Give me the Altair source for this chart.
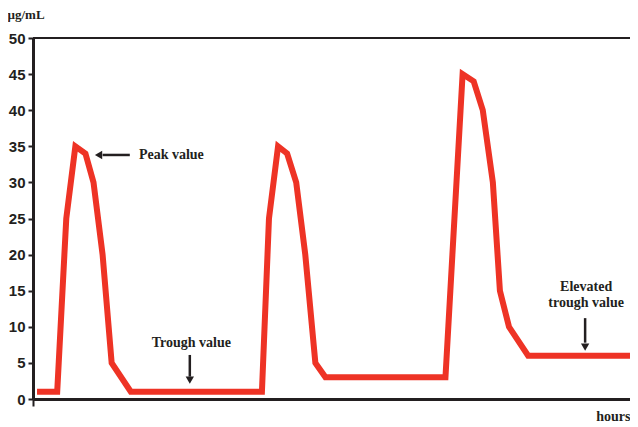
import altair as alt
import pandas as pd

# Concentration curve (hours, µg/mL)
hours = [0.4, 2.4, 3.3, 4.2, 5.2, 6.0, 6.9, 7.8, 9.7,
         22.7, 23.4, 24.3, 25.2, 26.1, 27.0, 28.0, 29.0,
         40.9, 42.6, 43.7, 44.6, 45.6, 46.3, 47.2, 49.1, 60.0]
conc = [1, 1, 25, 35, 34, 30, 20, 5, 1,
        1, 25, 35, 34, 30, 20, 5, 3,
        3, 45, 44, 40, 30, 15, 10, 6, 6]

y_ticks = [0, 5, 10, 15, 20, 25, 30, 35, 40, 45, 50]

# Annotations
ann_text = ["Peak value", "Trough value", "Elevated", "trough value"]
ann_x = [10.5, 15.7, 54.85, 54.85]
ann_y = [33.8, 7.75, 15.5, 13.3]
ann_align = ["left", "center", "center", "center"]

arrow_x = [9.6, 15.55, 54.75]
arrow_y = [33.8, 6.1, 11.2]
arrow_x2 = [6.9, 15.55, 54.75]
arrow_y2 = [33.8, 3.1, 7.8]
head_x = [6.5, 15.55, 54.75]
head_y = [33.8, 2.6, 7.2]
head_shape = ["triangle-left", "triangle-down", "triangle-down"]

line_df = pd.DataFrame({"hours": hours, "conc": conc})
text_df = pd.DataFrame({"t": ann_text, "x": ann_x, "y": ann_y, "a": ann_align})
arrow_df = pd.DataFrame({"x": arrow_x, "y": arrow_y, "x2": arrow_x2, "y2": arrow_y2})
head_df = pd.DataFrame({"x": head_x, "y": head_y, "s": head_shape})

W, H = 597, 361
xs = alt.Scale(domain=[0, 59.2], nice=False, zero=False)
ys = alt.Scale(domain=[0, 50], nice=False)
DARK = "#231f20"
SERIF = "Liberation Serif"

x_axis = alt.Axis(values=[0], labels=False, tickSize=7, tickWidth=2, tickColor=DARK,
                  domainColor=DARK, domainWidth=3, grid=False,
                  title="hours", titleFont=SERIF, titleFontWeight="bold", titleFontSize=14,
                  titleColor=DARK, titleAlign="right", titleAnchor="end",
                  titleX=W, titleY=21, titleBaseline="alphabetic")
y_axis = alt.Axis(values=y_ticks, tickSize=5, tickWidth=2, tickColor=DARK,
                  domainColor=DARK, domainWidth=3, grid=False,
                  labelFont="Liberation Sans", labelFontWeight="bold", labelFontSize=15,
                  labelColor=DARK, labelPadding=3, labelOverlap=False,
                  title="µg/mL", titleFont=SERIF, titleFontWeight="bold", titleFontSize=13,
                  titleColor=DARK, titleAngle=0, titleAlign="left", titleX=-26, titleY=-20,
                  titleBaseline="alphabetic")


def X(f):
    return alt.X(f, scale=xs, axis=x_axis)


def Y(f):
    return alt.Y(f, scale=ys, axis=y_axis)


line = alt.Chart(line_df).mark_line(color="#EE3325", strokeWidth=6, strokeJoin="miter",
                                    strokeCap="butt", clip=True).encode(
    x=X("hours:Q"), y=Y("conc:Q"),
)

top = alt.Chart(pd.DataFrame({"v": [50]})).mark_rule(color=DARK, strokeWidth=2).encode(
    y=Y("v:Q")
)

arrows = alt.Chart(arrow_df).mark_rule(color=DARK, strokeWidth=2.5).encode(
    x=X("x:Q"), y=Y("y:Q"), x2="x2:Q", y2="y2:Q",
)

heads = alt.Chart(head_df).mark_point(filled=True, color=DARK, opacity=1, size=70).encode(
    x=X("x:Q"), y=Y("y:Q"),
    shape=alt.Shape("s:N", scale=None),
)

texts = []
for al in ["left", "center"]:
    sub = text_df[text_df["a"] == al]
    texts.append(alt.Chart(sub).mark_text(font=SERIF, fontWeight="bold", fontSize=14,
                                          color=DARK, align=al, baseline="middle").encode(
        x=X("x:Q"), y=Y("y:Q"), text="t:N"))

chart = alt.layer(line, top, arrows, heads, *texts).properties(
    width=W, height=H,
    padding={"left": 25, "top": 30, "right": 0, "bottom": 28},
    autosize=alt.AutoSizeParams(type="none"),
).configure_view(stroke=None).configure(background="white")

chart.save("out.html", embed_options={"renderer": "svg", "actions": False})
